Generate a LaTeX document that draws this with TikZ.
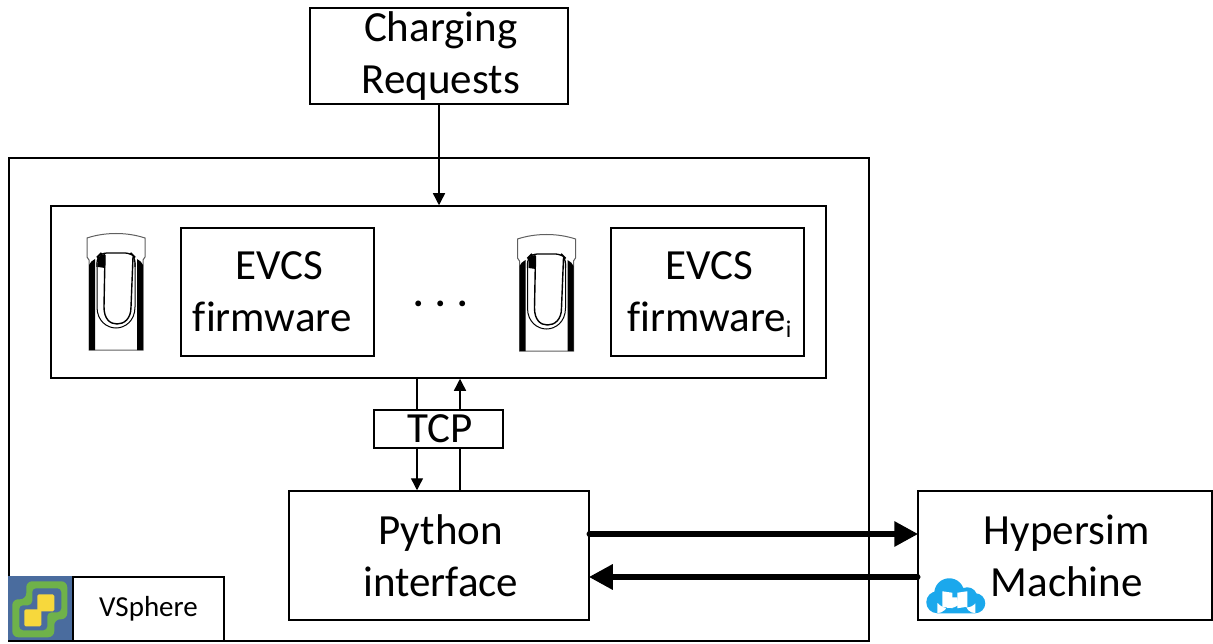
\documentclass[tikz,border=0pt]{standalone}
\usepackage{fontspec}
\setmainfont[Ligatures=NoCommon]{Carlito}
\usetikzlibrary{arrows.meta}
\definecolor{logoblue}{HTML}{4A6C9E}
\definecolor{logogreen}{HTML}{6FB24A}
\definecolor{logoyellow}{HTML}{F7D83C}
\definecolor{cloudblue}{HTML}{1BA8EC}
\newcommand{\tl}[1]{\hspace*{3.5pt}\raisebox{-1.5pt}{#1}}
\tikzset{
  x=1pt,y=-1pt,
  boxed/.style={draw=black,line width=1.5pt,fill=white,minimum width=#1,align=center,inner sep=0pt,font=\fontsize{43}{52}\selectfont},
  boxed/.default=10pt,
  thin arrow/.style={draw=black,line width=1.4pt,-{Triangle[length=12pt,width=12pt]}},
  thin link/.style={draw=black,line width=1.4pt},
  thick arrow/.style={draw=black,line width=6.5pt,-{Triangle[length=24pt,width=24pt]},shorten >=-1pt},
  evcs/.style={boxed=193pt,minimum height=128pt},
  charger/.pic={
    \draw[gray!75!black,line width=1pt,fill=white] (2,27) -- (0,24) -- (0,5) .. controls (18,-1) and (40,-1) .. (58,5) -- (58,24) -- (56,27) -- (56,117) -- (2,117) -- cycle;
    \fill[black] (2,32) .. controls (3,29) and (5,28) .. (8,26) -- (8,117) -- (2,117) -- cycle;
    \fill[black] (56,32) .. controls (55,29) and (53,28) .. (50,26) -- (50,117) -- (56,117) -- cycle;
    \draw[black,line width=1.3pt,rounded corners=6pt] (10,34) -- (10,24) -- (14,20) -- (44,20) -- (48,24) -- (48,34);
    \draw[black,line width=1pt] (10,30) -- (10,74) .. controls (10,88) and (20,95) .. (29,95) .. controls (38,95) and (48,88) .. (48,74) -- (48,30);
    \draw[black,line width=1.4pt] (18,22) -- (17,74) .. controls (17,86) and (23,91) .. (30,91) .. controls (37,91) and (44,86) .. (44,74) -- (46,24);
    \fill[black] (11,34) -- (11,25) .. controls (12,22) and (15,21) .. (18,21) -- (18,35) -- cycle;
  }
}
\begin{document}
\begin{tikzpicture}
\useasboundingbox (0.75,0.75) rectangle (1213.75,644.75);
% outer frame and containers
\node[boxed,minimum width=860pt,minimum height=483pt,anchor=north west] (outer) at (9,158) {};
\node[boxed,minimum width=775pt,minimum height=172pt,anchor=north west] (inner) at (51,206) {};
\node[boxed,minimum width=258pt,minimum height=96pt,anchor=north west] (requests) at (310,8) {\tl{Charging}\\\tl{Requests}};
\node[evcs,anchor=north west] (fwa) at (181,228) {\tl{EVCS}\\\tl{firmware}\hspace*{14pt}\null};
\node[evcs,anchor=north west] (fwb) at (611,228) {\tl{EVCS}\\\tl{firmware{\fontsize{24}{24}\selectfont\smash{\raisebox{-6pt}{i}}}}};
\node[inner sep=0pt,font=\fontsize{39}{39}\bfseries\selectfont] (dots) at (441.5,305) {. . .};
\node[boxed,minimum width=300pt,minimum height=129pt,anchor=north west] (python) at (289,491) {\tl{Python}\\\tl{interface}};
\node[boxed,minimum width=294pt,minimum height=129pt,anchor=north west] (hypersim) at (918,491) {\tl{Hypersim}\\\tl{Machine}};
\node[boxed,minimum width=129pt,minimum height=38pt,anchor=north west,font=\fontsize{43}{41}\selectfont] (tcp) at (374,410) {\tl{TCP}};
\node[boxed,minimum width=151pt,minimum height=64pt,anchor=north west,font=\fontsize{29}{30}\selectfont] (vsphere) at (73,577) {VSphere};
% chargers
\pic at (87.75,233.75) {charger};
\pic at (518.25,234.75) {charger};
% VSphere logo
\fill[logoblue] (9,577) rectangle (73,641);
\fill[logogreen,rounded corners=6pt] (27,582) -- (68,582) -- (68,620) -- (55,620) -- (55,638) -- (13,638) -- (13,600) -- (27,600) -- cycle;
\fill[logoblue,rounded corners=4pt] (33,589) -- (62,589) -- (62,613) -- (48,613) -- (48,631) -- (20,631) -- (20,606) -- (33,606) -- cycle;
\fill[logoyellow,rounded corners=1.5pt] (38,595) rectangle (55,612);
\fill[logoyellow,rounded corners=1.5pt] (25,610) rectangle (42,627);
% Hypersim cloud logo
\fill[cloudblue] (950,594) circle (15) (968,598) circle (10) (938,603) circle (11) (976,604) circle (10) (938,598) rectangle (976,614);
\fill[white] (943,592) -- (953,593.5) -- (953,609) -- (943,607.5) -- cycle;
\fill[white] (968,592) -- (958,593.5) -- (958,609) -- (968,607.5) -- cycle;
\fill[white] (953,599) rectangle (958,603);
% connectors
\coordinate (reqx) at (439.75,0);
\coordinate (down) at (417.75,0);
\coordinate (up) at (460.75,0);
\draw[thin arrow] (reqx |- requests.south) -- (reqx |- inner.north);
\draw[thin link] (down |- inner.south) -- (down |- tcp.north);
\draw[thin arrow] (down |- tcp.south) -- (down |- python.north);
\draw[thin link] (up |- python.north) -- (up |- tcp.south);
\draw[thin arrow] (up |- tcp.north) -- (up |- inner.south);
\coordinate (topy) at (0,534.75);
\coordinate (boty) at (0,577.75);
\draw[thick arrow,line cap=round] (python.east |- topy) -- (hypersim.west |- topy);
\draw[thick arrow,line cap=round] (hypersim.west |- boty) -- (python.east |- boty);
\end{tikzpicture}
\end{document}
